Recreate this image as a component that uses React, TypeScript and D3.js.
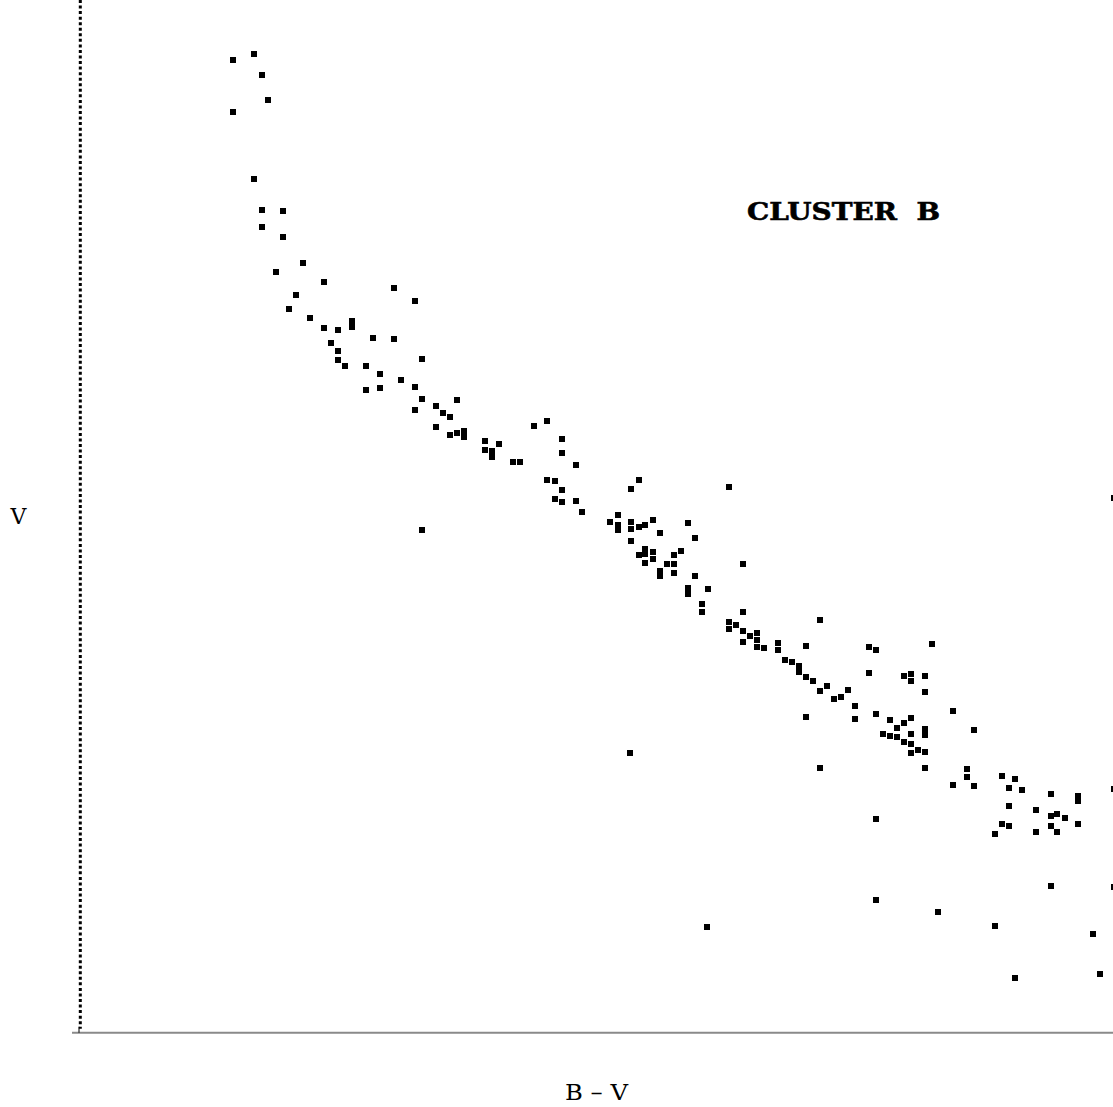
import React from "react";
import * as d3 from "d3";

// Cluster B colour–magnitude diagram: B−V (colour index) vs V (magnitude)
const bv: number[] = [
  0.347, 0.306, 0.364, 0.376, 0.306, 0.348, 0.364, 0.406, 0.364, 0.406,
  0.446, 0.392, 0.488, 0.628, 0.432, 0.670, 0.418, 0.460, 0.488, 0.516,
  0.544, 0.544, 0.586, 0.628, 0.502, 0.516, 0.516, 0.530, 0.572, 0.684,
  0.600, 0.642, 0.572, 0.600, 0.670, 0.684, 0.754, 0.670, 0.712, 0.726,
  0.740, 0.712, 0.740, 0.754, 0.768, 0.768, 0.810, 0.810, 0.838, 0.824,
  0.824, 0.866, 0.880, 0.908, 0.934, 0.964, 0.964, 0.992, 0.934, 0.950,
  0.964, 0.950, 0.964, 0.992, 1.004, 0.684, 1.118, 1.102, 1.298, 1.076,
  1.060, 1.076, 1.076, 1.102, 1.102, 1.118, 1.130, 1.146, 1.160, 1.216,
  1.230, 1.102, 1.118, 1.130, 1.130, 1.146, 1.146, 1.130, 1.174, 1.188,
  1.188, 1.202, 1.160, 1.160, 1.188, 1.230, 1.326, 1.216, 1.216, 1.256,
  1.244, 1.244, 1.326, 1.298, 1.298, 1.312, 1.326, 1.340, 1.326, 1.354,
  1.354, 1.354, 1.368, 1.396, 1.396, 1.452, 1.410, 1.424, 1.438, 1.438,
  1.452, 1.466, 1.480, 1.494, 1.480, 1.508, 1.522, 1.536, 1.550, 1.452,
  1.550, 1.578, 1.592, 1.578, 1.648, 1.662, 1.662, 1.592, 1.620, 1.634,
  1.648, 1.662, 1.606, 1.620, 1.634, 1.662, 1.704, 1.690, 1.690, 1.746,
  1.690, 1.690, 1.648, 1.662, 1.788, 1.676, 1.662, 1.690, 1.690, 1.774,
  1.774, 1.746, 1.788, 1.844, 1.870, 1.858, 1.884, 1.942, 1.996, 1.996,
  2.068, 1.858, 1.912, 1.942, 1.954, 1.970, 1.996, 1.844, 1.858, 1.942,
  1.912, 1.954, 1.830, 1.592, 1.942, 2.068, 1.592, 1.716, 1.830, 2.026,
  2.040, 1.870, 2.068, 1.100, 1.254, 1.480,
];

const vmag: number[] = [
  12.54, 12.60, 12.75, 13.00, 13.12, 13.79, 14.10, 14.11, 14.27, 14.37,
  14.63, 14.72, 14.82, 14.88, 14.95, 15.01, 15.09, 15.18, 15.28, 15.30,
  15.21, 15.27, 15.38, 15.39, 15.43, 15.51, 15.60, 15.66, 15.66, 15.59,
  15.74, 15.80, 15.90, 15.88, 15.87, 15.99, 16.00, 16.10, 16.06, 16.13,
  16.17, 16.27, 16.35, 16.33, 16.31, 16.37, 16.41, 16.50, 16.44, 16.51,
  16.57, 16.62, 16.62, 16.26, 16.21, 16.39, 16.53, 16.65, 16.80, 16.81,
  16.90, 16.99, 17.02, 17.01, 17.12, 17.30, 16.80, 16.89, 16.87, 17.15,
  17.22, 17.25, 17.30, 17.22, 17.29, 17.27, 17.25, 17.20, 17.33, 17.23,
  17.38, 17.41, 17.55, 17.49, 17.54, 17.52, 17.59, 17.63, 17.64, 17.64,
  17.55, 17.51, 17.71, 17.76, 17.73, 17.76, 17.64, 17.88, 17.94, 17.89,
  18.04, 18.12, 18.12, 18.22, 18.29, 18.25, 18.31, 18.36, 18.42, 18.33,
  18.40, 18.47, 18.48, 18.43, 18.50, 18.46, 18.60, 18.62, 18.66, 18.72,
  18.77, 18.81, 18.20, 18.86, 18.91, 18.99, 18.97, 18.90, 19.06, 19.17,
  19.19, 18.47, 18.50, 18.73, 18.76, 18.74, 18.81, 19.14, 19.20, 19.28,
  19.23, 19.18, 19.34, 19.36, 19.37, 19.34, 18.44, 18.76, 18.92, 19.11,
  19.29, 19.35, 19.42, 19.44, 19.30, 19.50, 19.53, 19.52, 19.68, 19.69,
  19.77, 19.85, 19.86, 19.76, 19.79, 19.88, 19.90, 19.94, 19.96, 20.01,
  19.89, 20.06, 20.10, 20.16, 20.14, 20.18, 20.24, 20.24, 20.26, 20.26,
  20.32, 20.32, 20.34, 20.19, 20.86, 20.87, 21.00, 21.12, 21.26, 21.34,
  21.74, 21.78, 16.98, 19.53, 21.27, 19.68,
];

const xLabel = "B \u2013 V";
const yLabel = "V";
const title = "CLUSTER  B";

const W = 1113;
const H = 1107;

export default function App() {
  React.useEffect(() => {
    document.body.style.margin = "0";
  }, []);

  const x = d3.scaleLinear().domain([0, 2.066]).range([80, 1113]);
  const y = d3.scaleLinear().domain([12, 22.32]).range([0, 1032]);
  const sz = 6;
  const pts = bv.map((b, i) => ({ b, v: vmag[i] }));
  const axisY = y(22.32) + 0.7;

  return (
    <svg width={W} height={H} style={{ display: "block", background: "#fff" }}>
      <rect x={0} y={0} width={W} height={H} fill="#fff" />
      {/* dotted y axis */}
      <line
        x1={x(0) + 0.3}
        x2={x(0) + 0.3}
        y1={y(12)}
        y2={axisY - 4}
        stroke="#000"
        strokeWidth={3}
        strokeDasharray="3 2.55"
      />
      {/* x axis */}
      <line x1={72} x2={W} y1={axisY} y2={axisY} stroke="#8a8a8a" strokeWidth={2} />
      <line x1={x(0) - 1} x2={x(0) - 1} y1={axisY - 6} y2={axisY} stroke="#000" strokeWidth={1} />
      {pts.map((p, i) => (
        <rect
          key={i}
          x={x(p.b) - sz / 2}
          y={y(p.v) - sz / 2}
          width={sz}
          height={sz}
          fill="#000"
          shapeRendering="crispEdges"
        />
      ))}
      <text
        x={18.5}
        y={524}
        textAnchor="middle"
        fontFamily="'DejaVu Serif', serif"
        fontSize={22}
        fill="#000"
      >
        {yLabel}
      </text>
      <text
        x={565}
        y={1100}
        fontFamily="'DejaVu Serif', serif"
        fontSize={22}
        fill="#000"
        textLength={63}
        lengthAdjust="spacingAndGlyphs"
        style={{ whiteSpace: "pre" }}
      >
        {xLabel}
      </text>
      <text
        x={747}
        y={220}
        fontFamily="'DejaVu Serif', serif"
        fontWeight="bold"
        fontSize={24}
        fill="#000"
        stroke="#000"
        strokeWidth={0.6}
        textLength={193}
        lengthAdjust="spacingAndGlyphs"
        style={{ whiteSpace: "pre" }}
      >
        {title}
      </text>
    </svg>
  );
}
